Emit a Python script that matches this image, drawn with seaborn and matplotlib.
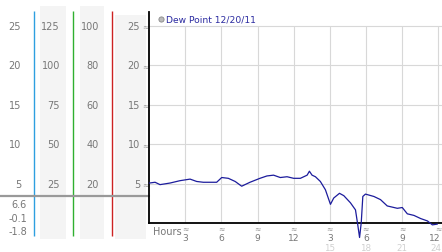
import numpy as np
import pandas as pd
import matplotlib
matplotlib.use("Agg")
import matplotlib.pyplot as plt
import seaborn as sns
from matplotlib import transforms

# ---- data ----
hours = [0, 0.48, 0.89, 1.31, 1.72, 2.55, 3.39, 3.94, 4.49, 5.6, 6.02, 6.57, 7.14, 7.68,
         8.37, 9.2, 9.78, 10.33, 10.89, 11.45, 12.0, 12.56, 13.12, 13.31, 13.53, 13.81,
         14.22, 14.64, 15.06, 15.33, 15.81, 16.17, 16.72, 17.14, 17.33, 17.48, 17.62,
         17.75, 17.97, 18.67, 19.22, 19.78, 20.62, 21.03, 21.45, 22.0, 22.56, 23.12,
         23.53, 23.95]
dew = [5.1, 5.2, 4.9, 5.0, 5.1, 5.4, 5.6, 5.3, 5.2, 5.2, 5.8, 5.7, 5.3, 4.7,
       5.2, 5.7, 6.0, 6.1, 5.8, 5.9, 5.7, 5.7, 6.1, 6.6, 6.1, 5.9,
       5.3, 4.25, 2.4, 3.2, 3.8, 3.5, 2.6, 1.7, -0.2, -1.8, 0.1,
       3.4, 3.7, 3.4, 3.0, 2.2, 1.9, 2.0, 1.2, 1.0, 0.6, 0.3,
       -0.2, -0.1]
series_label = "Dew Point 12/20/11"
y_ticks = [25, 20, 15, 10, 5]
col2_labels = [125, 100, 75, 50, 25]
col3_labels = [100, 80, 60, 40, 20]
hour_ticks = [3, 6, 9, 12, 15, 18, 21, 24]
hour_labels = ["3", "6", "9", "12", "3", "6", "9", "12"]
hour_labels2 = {15: "15", 18: "18", 21: "21", 24: "24"}

df = pd.DataFrame({"hour": hours, "dew": dew})

W, H = 442, 253
sns.set_style("white")
plt.rcParams['font.family'] = ['DejaVu Sans']
fig = plt.figure(figsize=(W / 100, H / 100), dpi=100)

# pixel geometry
x0px, y0px = 149.3, 224.3      # axis origin (hour 0, value 0)
ppu = (224.3 - 27.0) / 25.0    # pixels per value unit
pph = (438.0 - 149.3) / 24.0   # pixels per hour
top_px = 13.0

def fy(px):
    return 1 - px / H

def fx(px):
    return px / W

# background axes for left panel, in pixel coordinates
bg = fig.add_axes([0, 0, 1, 1])
bg.set_xlim(0, W)
bg.set_ylim(H, 0)
bg.axis("off")

# grey bands
for xa, xb, ya in [(40, 66, 7), (80, 104, 7), (115, 146, 16)]:
    bg.fill_between([xa, xb], ya, 240, color="#f4f4f4", lw=0, zorder=0)

# coloured vertical lines
for xc, col in [(33.5, "#2e9fe0"), (72.5, "#30b030"), (111.5, "#cc2222")]:
    bg.plot([xc, xc], [12, 237], color=col, lw=1.0, zorder=2, solid_capstyle="butt")

# gray separator
bg.plot([0, x0px], [197, 197], color="#999999", lw=1.6, zorder=3)

lab_color = "#777777"
for v, c2, c3 in zip(y_ticks, col2_labels, col3_labels):
    ypx = y0px - v * ppu
    bg.text(21, ypx, str(v), ha="right", va="center", fontsize=7, color=lab_color)
    bg.text(60, ypx, str(c2), ha="right", va="center", fontsize=7, color=lab_color)
    bg.text(99, ypx, str(c3), ha="right", va="center", fontsize=7, color=lab_color)
    bg.text(140, ypx, str(v), ha="right", va="center", fontsize=7, color=lab_color)
    bg.text(145.5, ypx, "≈", ha="center", va="center", fontsize=5.5, color="#999999")

# stats
stats = [max(dew), dew[-1], min(dew)]
for s, ypx in zip(stats, [205, 219, 232]):
    bg.text(27, ypx, f"{s:.1f}", ha="right", va="center",
            fontsize=7, color=lab_color)

# main axes
xmax = (W - x0px) / pph
ymax = (y0px - top_px) / ppu
ax = fig.add_axes([fx(x0px), fy(y0px), (W - x0px) / W, (y0px - top_px) / H])
ax.set_xlim(0, xmax)
ax.set_ylim(0, ymax)
ax.patch.set_alpha(0)
ax.hlines(y_ticks, 0, xmax, color="#d8d8d8", lw=0.8, zorder=1)
ax.vlines(hour_ticks, 0, max(y_ticks), color="#d8d8d8", lw=0.8, zorder=1)
sns.lineplot(data=df, x="hour", y="dew", ax=ax, color="#1c1c9c", lw=0.9,
             zorder=3, clip_on=False, legend=False)
ax.set_xticks([])
ax.set_yticks([])
ax.set_xlabel("")
ax.set_ylabel("")
for s in ["top", "right"]:
    ax.spines[s].set_visible(False)
for s in ["left", "bottom"]:
    ax.spines[s].set_color("black")
    ax.spines[s].set_linewidth(1.3)

# hour labels
tr = transforms.blended_transform_factory(ax.transData, fig.transFigure)
ax.text(0.3, fy(232), "Hours", transform=tr, ha="left", va="center",
        fontsize=7, color=lab_color)
for h, lab in zip(hour_ticks, hour_labels):
    last = h == max(hour_ticks)
    hx = h + 0.25 if last else h
    ha = "right" if last else "center"
    ax.text(h, fy(229), "≈", transform=tr, ha="center", va="center",
            fontsize=5.5, color="#999999")
    ax.text(hx, fy(238.5), lab, transform=tr, ha=ha, va="center",
            fontsize=6.6, color=lab_color)
    if h in hour_labels2:
        ax.text(hx, fy(248.5), hour_labels2[h], transform=tr, ha=ha, va="center",
                fontsize=6.3, color="#d0d0d0")

# legend
bg.scatter([161], [20], s=14, color="#bbbbbb", edgecolor="#888888", lw=0.6, zorder=4)
bg.text(166, 20, series_label, ha="left", va="center", fontsize=6.6, color="#2a2aa0")

fig.savefig("out.png", dpi=100)
